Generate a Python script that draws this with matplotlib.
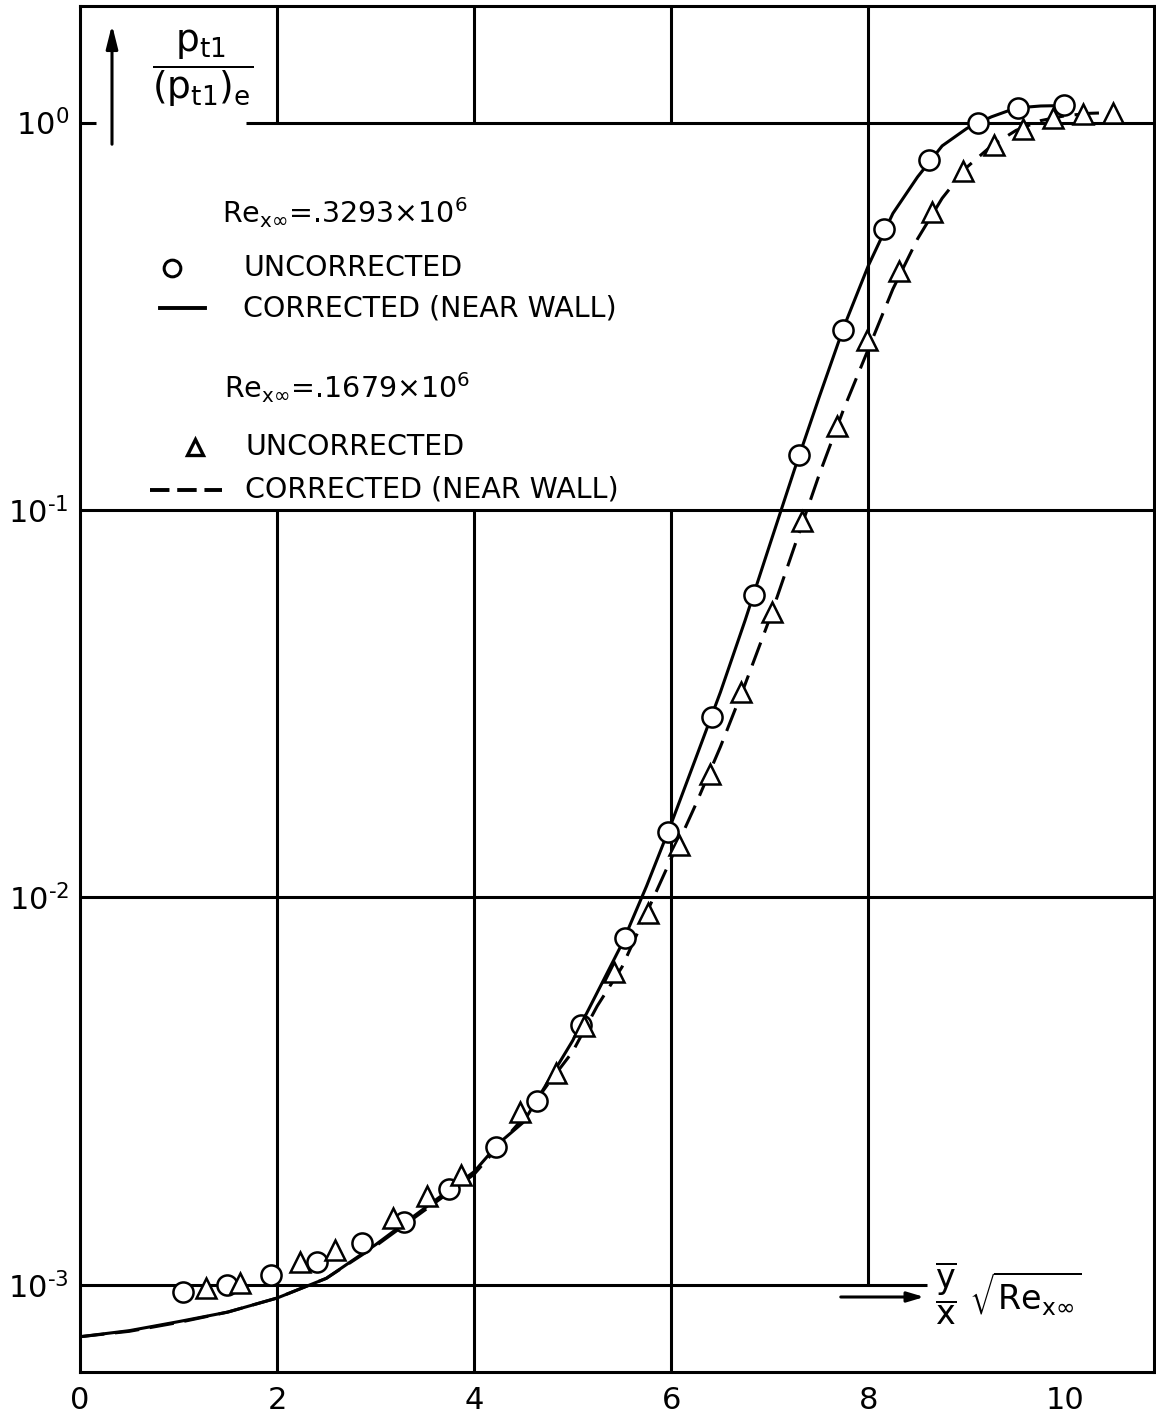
import numpy as np
import matplotlib
matplotlib.use("Agg")
import matplotlib.pyplot as plt
from matplotlib.lines import Line2D

plt.rcParams['font.family'] = ['DejaVu Sans']
plt.rcParams['mathtext.fontset'] = 'dejavusans'

# ---- data ----
# Re_x_inf = .3293e6, uncorrected (circles)
circ_x = [1.05, 1.49, 1.94, 2.41, 2.86, 3.29, 3.75, 4.22, 4.64, 5.08, 5.53, 5.97,
          6.41, 6.84, 7.30, 7.74, 8.16, 8.62, 9.11, 9.52, 9.99]
circ_y = [9.6e-4, 1.0e-3, 1.06e-3, 1.145e-3, 1.28e-3, 1.45e-3, 1.77e-3, 2.27e-3,
          2.99e-3, 4.69e-3, 7.87e-3, 1.48e-2, 2.93e-2, 6.04e-2, 0.139, 0.292,
          0.53, 0.80, 1.0, 1.09, 1.11]
# Re_x_inf = .1679e6, uncorrected (triangles)
tri_x = [1.28, 1.62, 2.23, 2.59, 3.18, 3.52, 3.87, 4.47, 4.83, 5.12, 5.42, 5.76,
         6.08, 6.39, 6.71, 7.02, 7.33, 7.68, 7.99, 8.31, 8.65, 8.96, 9.28, 9.57,
         9.87, 10.18, 10.48]
tri_y = [9.8e-4, 1.01e-3, 1.145e-3, 1.23e-3, 1.49e-3, 1.70e-3, 1.92e-3, 2.79e-3,
         3.52e-3, 4.66e-3, 6.43e-3, 9.12e-3, 1.37e-2, 2.08e-2, 3.40e-2, 5.46e-2,
         9.38e-2, 0.165, 0.275, 0.415, 0.589, 0.752, 0.873, 0.965, 1.03, 1.055, 1.06]
# corrected (near wall), Re_x_inf = .3293e6 (solid curve)
solid_x = [0, 0.5, 1.0, 1.5, 2.0, 2.5, 3.0, 3.5, 4.0, 4.25, 4.5, 4.75, 5.0, 5.25,
           5.5, 5.75, 6.0, 6.25, 6.5, 6.75, 7.0, 7.25, 7.5, 7.75, 8.0, 8.25, 8.5,
           8.75, 9.0, 9.25, 9.5, 9.75, 10.0]
solid_y = [7.35e-4, 7.62e-4, 8.04e-4, 8.51e-4, 9.25e-4, 1.04e-3, 1.27e-3, 1.58e-3,
           1.96e-3, 2.32e-3, 2.63e-3, 3.35e-3, 4.27e-3, 5.69e-3, 7.59e-3, 1.07e-2,
           1.55e-2, 2.29e-2, 3.39e-2, 5.19e-2, 8.13e-2, 0.127, 0.195, 0.296, 0.427,
           0.583, 0.724, 0.871, 0.966, 1.035, 1.091, 1.104, 1.107]
# corrected (near wall), Re_x_inf = .1679e6 (dashed curve)
dash_x = [0, 0.5, 1.0, 1.5, 2.0, 2.5, 3.0, 3.5, 4.0, 4.5, 4.75, 5.0, 5.25, 5.5,
          5.75, 6.0, 6.25, 6.5, 6.75, 7.0, 7.25, 7.5, 7.75, 8.0, 8.25, 8.5, 8.75,
          9.0, 9.25, 9.5, 9.75, 10.0, 10.25, 10.5]
dash_y = [7.35e-4, 7.59e-4, 8.0e-4, 8.51e-4, 9.25e-4, 1.04e-3, 1.26e-3, 1.56e-3,
          1.93e-3, 2.70e-3, 3.30e-3, 4.0e-3, 5.25e-3, 6.61e-3, 9.12e-3, 1.26e-2,
          1.74e-2, 2.45e-2, 3.55e-2, 5.25e-2, 8.04e-2, 0.123, 0.182, 0.260, 0.372,
          0.501, 0.638, 0.767, 0.871, 0.955, 1.012, 1.042, 1.057, 1.062]

xtick_vals = [0, 2, 4, 6, 8, 10]
xtick_labels = ['0', '2', '4', '6', '8', '10']
ytick_vals = [1e-3, 1e-2, 1e-1, 1e0]
ytick_labels = [r'$10^{\text{-}3}$', r'$10^{\text{-}2}$', r'$10^{\text{-}1}$', r'$10^{0}$']

# ---- figure ----
W, H = 1156, 1414
fig = plt.figure(figsize=(W / 100, H / 100), dpi=100)
L, R, T, B = 80, 1154, 6, 1372
ax = fig.add_axes([L / W, 1 - B / H, (R - L) / W, (B - T) / H])
ax.set_yscale('log')
ax.set_xlim(0, 10.9)
ax.set_ylim(5.96e-4, 2.0)

lw = 2.2
grid_kw = dict(color='black', lw=lw, zorder=1)
# partial grid, as in the reference
ax.vlines([2, 4, 6], 5.96e-4, 0.1, **grid_kw)
ax.vlines([2, 4, 6], 1.0, 2.0, **grid_kw)
ax.vlines([8], 1e-3, 2.0, **grid_kw)
ax.hlines([0.1, 0.01], 0, 10.9, **grid_kw)
ax.hlines([1.0], 1.68, 10.9, **grid_kw)
ax.hlines([1.0], 0, 0.16, **grid_kw)
ax.hlines([1e-3], 0, 8.6, **grid_kw)

# curves
ax.plot(solid_x, solid_y, color='black', lw=lw, zorder=2)
ax.plot(dash_x, dash_y, color='black', lw=lw, dashes=(8, 3.5), zorder=2)
# points
ax.plot(circ_x, circ_y, ls='none', marker='o', ms=14.5, mfc='white',
        mec='black', mew=1.8, zorder=3)
ax.plot(tri_x, tri_y, ls='none', marker='^', ms=14.5, mfc='white',
        mec='black', mew=1.8, zorder=3)

# ticks
ax.set_xticks(xtick_vals)
ax.set_xticklabels(xtick_labels, fontsize=22)
ax.set_yticks(ytick_vals)
ax.set_yticklabels(ytick_labels, fontsize=22)
ax.minorticks_off()
ax.tick_params(axis='both', length=0)
ax.tick_params(axis='x', pad=10)
ax.tick_params(axis='y', pad=8)
for s in ax.spines.values():
    s.set_linewidth(lw)

# ---- in-plot legend ----
def fx(px):
    return (px - L) / (R - L)

def fy(py):
    return (B - py) / (B - T)

tfs = 20.5
ax.text(fx(222), fy(213), r'Re$_{\mathrm{x}\infty}$=.3293$\times$10$^{6}$', transform=ax.transAxes,
        fontsize=tfs, va='center', ha='left')
ax.add_line(Line2D([fx(172)], [fy(268)], transform=ax.transAxes, marker='o', ms=12,
                   mfc='white', mec='black', mew=2.2, ls='none'))
ax.text(fx(243), fy(268), 'UNCORRECTED', transform=ax.transAxes, fontsize=tfs,
        va='center', ha='left')
ax.add_line(Line2D([fx(160), fx(205)], [fy(308), fy(308)], transform=ax.transAxes,
                   color='black', lw=lw + 0.6))
ax.text(fx(243), fy(308), 'CORRECTED (NEAR WALL)', transform=ax.transAxes, fontsize=tfs,
        va='center', ha='left')

ax.text(fx(224), fy(388), r'Re$_{\mathrm{x}\infty}$=.1679$\times$10$^{6}$', transform=ax.transAxes,
        fontsize=tfs, va='center', ha='left')
ax.add_line(Line2D([fx(195)], [fy(447)], transform=ax.transAxes, marker='^', ms=12,
                   mfc='white', mec='black', mew=2.4, ls='none'))
ax.text(fx(245), fy(447), 'UNCORRECTED', transform=ax.transAxes, fontsize=tfs,
        va='center', ha='left')
ax.add_line(Line2D([fx(150), fx(222)], [fy(490), fy(490)], transform=ax.transAxes,
                   color='black', lw=lw + 0.6, dashes=(5, 2)))
ax.text(fx(245), fy(490), 'CORRECTED (NEAR WALL)', transform=ax.transAxes, fontsize=tfs,
        va='center', ha='left')

# ---- axis labels with arrows ----
ax.annotate('', xy=(fx(112), fy(22)), xytext=(fx(112), fy(147)),
            xycoords='axes fraction', textcoords='axes fraction',
            arrowprops=dict(arrowstyle='-|>,head_length=1.4,head_width=0.35',
                            color='black', lw=lw))
ax.text(fx(203), fy(68), r'$\dfrac{\mathrm{p_{t1}}}{(\mathrm{p_{t1}})_{\mathrm{e}}}$',
        transform=ax.transAxes, fontsize=27, va='center', ha='center')

ax.annotate('', xy=(fx(927), fy(1297)), xytext=(fx(838), fy(1297)),
            xycoords='axes fraction', textcoords='axes fraction',
            arrowprops=dict(arrowstyle='-|>,head_length=1.0,head_width=0.3',
                            color='black', lw=lw))
ax.text(fx(935), fy(1293), r'$\dfrac{\overline{\mathrm{y}}}{\mathrm{x}}\ \sqrt{\mathrm{Re}_{\mathrm{x}\infty}}$',
        transform=ax.transAxes, fontsize=24, va='center', ha='left')

fig.savefig('out.png', dpi=100)
